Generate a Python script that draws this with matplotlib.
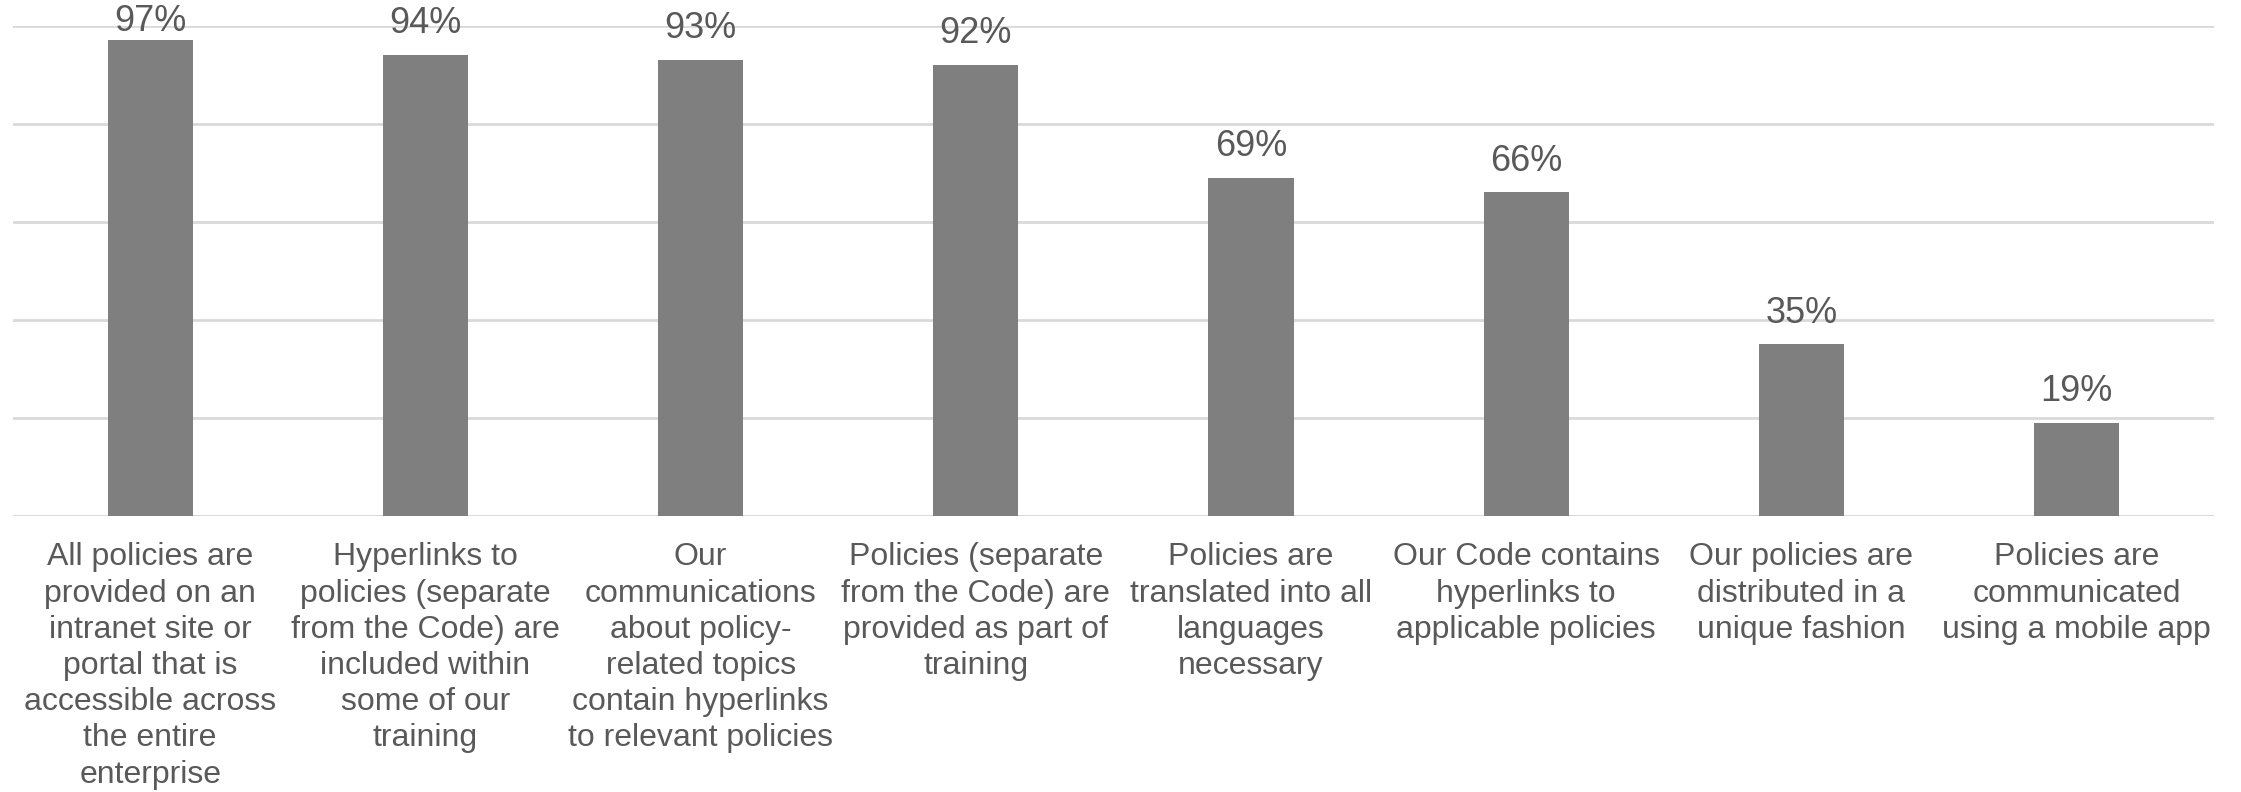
import matplotlib.pyplot as plt

# Chart data
categories = [
    "All policies are\nprovided on an\nintranet site or\nportal that is\naccessible across\nthe entire\nenterprise",
    "Hyperlinks to\npolicies (separate\nfrom the Code) are\nincluded within\nsome of our\ntraining",
    "Our\ncommunications\nabout policy-\nrelated topics\ncontain hyperlinks\nto relevant policies",
    "Policies (separate\nfrom the Code) are\nprovided as part of\ntraining",
    "Policies are\ntranslated into all\nlanguages\nnecessary",
    "Our Code contains\nhyperlinks to\napplicable policies",
    "Our policies are\ndistributed in a\nunique fashion",
    "Policies are\ncommunicated\nusing a mobile app",
]
values = [97, 94, 93, 92, 69, 66, 35, 19]

bar_color = "#7f7f7f"
grid_color = "#d9d9d9"
text_color = "#595959"

plt.rcParams["font.family"] = ["Liberation Sans", "DejaVu Sans"]

fig = plt.figure(figsize=(22.41, 7.92), dpi=100)
ax = fig.add_axes([0.0056, 0.3485, 0.9825, 0.619])

x = list(range(len(categories)))
ax.bar(x, values, width=0.31, color=bar_color, zorder=3)

ax.set_xlim(-0.5, len(categories) - 0.5)
ax.set_ylim(0, 100)
ax.set_yticks([0, 20, 40, 60, 80, 100])
ax.yaxis.grid(True, color=grid_color, linewidth=2, zorder=0)
ax.tick_params(axis="y", left=False, labelleft=False)
ax.tick_params(axis="x", length=0, pad=19)
for side in ["top", "right", "left", "bottom"]:
    ax.spines[side].set_visible(False)
ax.axhline(0, color=grid_color, linewidth=2, zorder=2)

ax.set_xticks(x)
ax.set_xticklabels(categories, fontsize=23, color=text_color, va="top",
                   linespacing=1.27)

# value labels above bars (top one pushed down to fit, like the original)
for xi, v in zip(x, values):
    off = 1 if v > 95 else 10
    ax.annotate(f"{v}%", (xi, v), xytext=(0, off), textcoords="offset points",
                ha="center", va="bottom", fontsize=26, color=text_color,
                annotation_clip=False)

fig.savefig("out.png", dpi=100)
plt.close(fig)
